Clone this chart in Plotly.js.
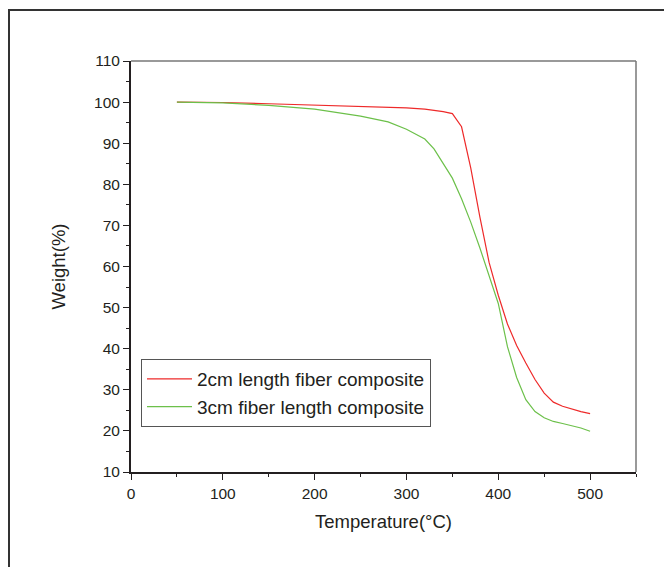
<!DOCTYPE html>
<html>
<head>
<meta charset="utf-8">
<script src="https://cdn.plot.ly/plotly-3.0.1.min.js"></script>
<style>html,body{margin:0;padding:0;background:#fff;}#chart{width:664px;height:567px;}</style>
</head>
<body>
<div id="chart"></div>
<script>
const temps = [50, 100, 150, 200, 250, 280, 300, 320, 330, 340, 350, 360, 370, 380, 390, 400, 410, 420, 430, 440, 450, 460, 470, 480, 490, 500];
const weight2cm = [100.0, 99.9, 99.6, 99.3, 99.0, 98.8, 98.6, 98.3, 98.0, 97.7, 97.2, 94.0, 84.0, 72.0, 61.0, 53.0, 46.0, 40.8, 36.5, 32.5, 29.2, 27.0, 26.0, 25.3, 24.7, 24.2];
const weight3cm = [100.0, 99.8, 99.2, 98.3, 96.6, 95.2, 93.4, 91.0, 88.6, 85.2, 81.5, 76.5, 70.8, 64.5, 58.0, 51.0, 40.5, 33.0, 27.6, 24.7, 23.2, 22.3, 21.8, 21.3, 20.7, 19.9];
const seriesNames = ["2cm length fiber composite", "3cm fiber length composite"];
const xTitle = "Temperature(°C)";
const yTitle = "Weight(%)";

const L = 131, R = 636, T = 61, B = 472, W = 664, H = 567;
const px = x => (x - L) / (R - L);
const py = y => (B - y) / (B - T);

const traces = [
  {x: temps, y: weight2cm, name: seriesNames[0], mode: 'lines', line: {color: '#ee2a2a', width: 1.2}},
  {x: temps, y: weight3cm, name: seriesNames[1], mode: 'lines', line: {color: '#6cc04a', width: 1.2}}
];

const font = {family: 'Liberation Sans, Arial, sans-serif', color: '#231f20'};

const layout = {
  width: W, height: H,
  margin: {l: L, r: W - R, t: T, b: H - B, pad: 0},
  paper_bgcolor: '#fff', plot_bgcolor: '#fff',
  font: font,
  showlegend: true,
  legend: {
    x: px(141), y: py(359), xanchor: 'left', yanchor: 'top',
    bgcolor: '#fff', bordercolor: '#555', borderwidth: 1,
    font: {family: font.family, size: 19, color: '#231f20'},
    itemwidth: 45,
    tracegroupgap: 0
  },
  xaxis: {
    range: [0, 550], tickvals: [0, 100, 200, 300, 400, 500], ticks: 'outside', ticklen: 6, tickwidth: 1, tickcolor: '#231f20',
    minor: {tickvals: [50, 150, 250, 350, 450, 550], ticks: 'outside', ticklen: 3, tickcolor: '#231f20', showgrid: false},
    showline: true, linecolor: '#231f20', linewidth: 2, showgrid: false, zeroline: false,
    tickfont: {size: 15.5, color: '#231f20'},
    title: {text: xTitle, font: {size: 18.5, color: '#231f20'}, standoff: 14}
  },
  yaxis: {
    range: [10, 110], tickvals: [10, 20, 30, 40, 50, 60, 70, 80, 90, 100, 110], ticks: 'outside', ticklen: 6, tickwidth: 1, tickcolor: '#231f20',
    minor: {tickvals: [15, 25, 35, 45, 55, 65, 75, 85, 95, 105], ticks: 'outside', ticklen: 3, tickcolor: '#231f20', showgrid: false},
    showline: true, linecolor: '#231f20', linewidth: 2, showgrid: false, zeroline: false,
    tickfont: {size: 15.5, color: '#231f20'},
    title: {text: yTitle, font: {size: 18.5, color: '#231f20'}, standoff: 24}
  },
  shapes: [
    {type: 'line', xref: 'paper', yref: 'paper', x0: 1, x1: 1, y0: 0, y1: 1, line: {color: '#777', width: 1.5}},
    {type: 'line', xref: 'paper', yref: 'paper', x0: 0, x1: 1, y0: 1, y1: 1, line: {color: '#777', width: 1.5}},
    {type: 'line', xref: 'paper', yref: 'paper', x0: px(9), x1: px(9), y0: py(10), y1: py(570), line: {color: '#333', width: 2}},
    {type: 'line', xref: 'paper', yref: 'paper', x0: px(8), x1: px(670), y0: py(10), y1: py(10), line: {color: '#333', width: 2}}
  ]
};

Plotly.newPlot('chart', traces, layout, {staticPlot: true, displayModeBar: false});
</script>
</body>
</html>
